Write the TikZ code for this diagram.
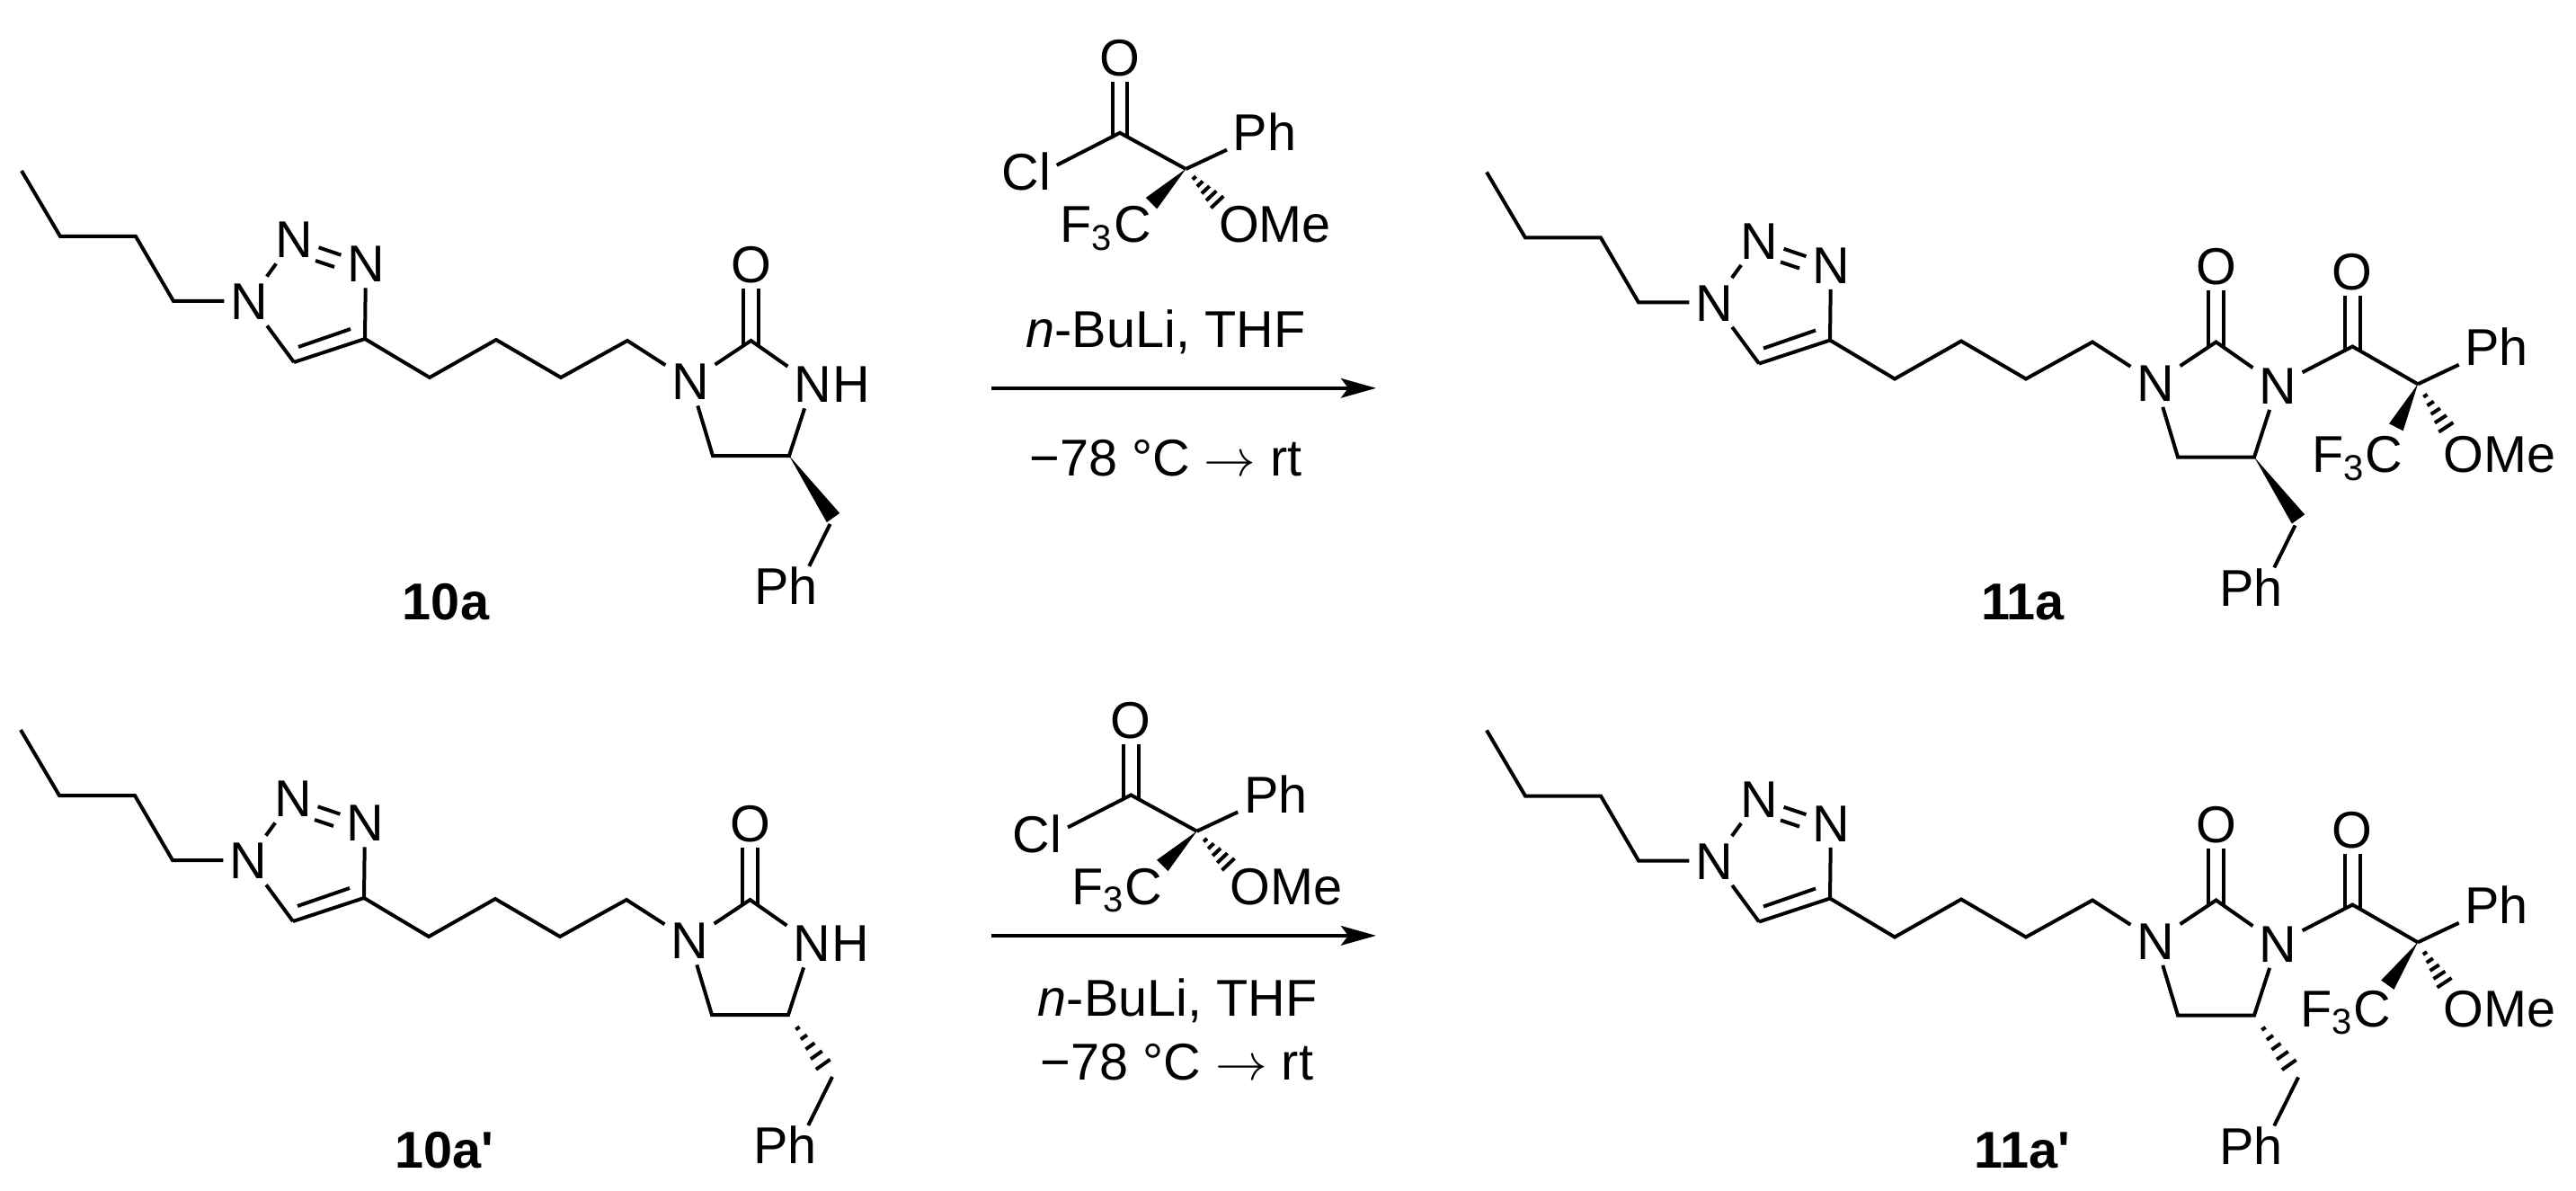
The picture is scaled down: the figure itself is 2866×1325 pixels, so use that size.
\documentclass[tikz,border=0pt]{standalone}
\usepackage{fontspec}
\newfontfamily\chemfont{Liberation Sans}
\usetikzlibrary{
    arrows.meta,
    positioning,
    calc
}
\tikzset{
    % Atom label on a bond
    atomnode/.style={
        font=\fontsize{14.4}{17}\selectfont\chemfont,
        inner sep=1.5pt,
        text height=10.3pt,
        text depth=0pt
    },
    % Compound number
    labelnode/.style={
        font=\fontsize{14.4}{17}\selectfont\chemfont\bfseries,
        anchor=base,
        inner sep=0pt
    },
    % Reaction conditions
    condnode/.style={
        font=\fontsize{14.4}{17}\selectfont\chemfont,
        anchor=base,
        inner sep=0pt
    },
    % Single bond
    bondline/.style={
        line width=1pt
    },
    % C=O bond
    doublebond/.style={
        line width=1pt,
        double=white,
        double distance=3.2pt,
        shorten <=-1.4pt
    },
    % Reaction arrow
    rxnarrow/.style={
        -{Stealth[length=9.75pt,width=5.4pt,inset=2pt]},
        line width=1pt
    }
}
% Stereo bonds
\newcommand{\wedgebond}[2]{
    \fill (#1) -- ($(#2)!2.2pt!90:(#1)$) -- ($(#2)!2.2pt!-90:(#1)$) -- cycle;
}
\newcommand{\hashbond}[2]{
    \foreach \tk in {0.27,0.45,0.63,0.81,1}{
        \pgfmathsetmacro{\hw}{2.4*\tk}
        \coordinate (hp) at ($(#1)!\tk!(#2)$);
        \draw[bondline] ($(hp)!\hw pt!90:(#1)$) -- ($(hp)!\hw pt!-90:(#1)$);
    }
}
% Butyl triazole, linker and ring
\newcommand{\triazolering}{
    \coordinate (bu1) at (24,190);
    \coordinate (bu2) at (67,263);
    \coordinate (bu3) at (151,263);
    \coordinate (bu4) at (193,335);
    \node[atomnode] (Nt1) at (277,335) {N};
    \node[atomnode] (Nt2) at (327,266) {N};
    \node[atomnode] (Nt3) at (407,293) {N};
    \coordinate (Ct4) at (406,377);
    \coordinate (Ct5) at (327,403);
    \coordinate (in1) at (351,290);
    \coordinate (in2) at (372,297);
    \coordinate (in3) at (390,366);
    \coordinate (in4) at (332,386);
    \coordinate (li1) at (478,420);
    \coordinate (li2) at (552,378);
    \coordinate (li3) at (624,420);
    \coordinate (li4) at (698,379);
    \node[atomnode] (Na) at (768,424) {N};
    \coordinate (Cu) at (835.5,379);
    \node[atomnode] (Ou) at (835.5,294) {O};
    \node[atomnode] (Nb) at (904,427) {N};
    \coordinate (Cs) at (878,507);
    \coordinate (Cm) at (793,507);
    \coordinate (Cb) at (927,576);
    \node[atomnode] (Phb) at (874.5,652) {Ph};
    \draw[doublebond] (Cu) -- (Ou);
    \draw[bondline] (bu1) -- (bu2) -- (bu3) -- (bu4) -- (Nt1);
    \draw[bondline] (Nt1) -- (Nt2);
    \draw[bondline] (Nt2) -- (Nt3);
    \draw[bondline] (in1) -- (in2);
    \draw[bondline] (Nt3) -- (Ct4);
    \draw[bondline] (Nt1) -- (Ct5);
    \draw[bondline] (Ct5) -- (Ct4) -- (li1) -- (li2) -- (li3) -- (li4) -- (Na);
    \draw[bondline] (in3) -- (in4);
    \draw[bondline] (Na) -- (Cu) -- (Nb);
    \draw[bondline] (Nb) -- (Cs) -- (Cm) -- (Na);
}
% Quaternary centre of the acid chloride
\newcommand{\mtpachloride}{
    \node[atomnode] (Oc) at (1246,64) {O};
    \coordinate (Cc) at (1246,147.8);
    \node[atomnode] (Cl) at (1141.7,191) {Cl};
    \coordinate (Cq) at (1319.3,188);
    \node[atomnode] (Ph) at (1407,147) {Ph};
    \node[atomnode, anchor=base] (Cf) at (1230.3,269.5) {F\textsubscript{3}C};
    \node[atomnode, anchor=base] (Ome) at (1418.5,269.5) {OMe};
    \coordinate (we) at (1281,226.2);
    \coordinate (ha) at (1354.2,224.8);
    \draw[doublebond] (Cc) -- (Oc);
    \draw[bondline] (Cl.12) -- (Cc) -- (Cq);
    \draw[bondline] (Cq) -- (Ph);
    \wedgebond{Cq}{we}
    \hashbond{Cq}{ha}
}
% Acyl arm of the products
\newcommand{\acylarm}[4]{
    \coordinate (Cc) at (987.3,384);
    \node[atomnode] (Oc) at (987.3,300.5) {O};
    \coordinate (Cq) at (1060,425.8);
    \node[atomnode] (Ph) at (1147.7,384.4) {Ph};
    \node[atomnode, anchor=base] (Cf) at #2 {F\textsubscript{3}C};
    \node[atomnode, anchor=base] (Ome) at #4 {OMe};
    \coordinate (we) at #1;
    \coordinate (ha) at #3;
    \draw[doublebond] (Cc) -- (Oc);
    \draw[bondline] (Nb) -- (Cc) -- (Cq);
    \draw[bondline] (Cq) -- (Ph);
    \wedgebond{Cq}{we}
    \hashbond{Cq}{ha}
}

\begin{document}
\begin{tikzpicture}[x=0.25pt, y=-0.25pt]
    \useasboundingbox (0,0) rectangle (2866,1325);

    % Starting materials
    \begin{scope}[name prefix=sa-]
        \triazolering
        \node[atomnode, inner sep=0pt, right=-1.5pt of Nb] (Hb) {H};
        \wedgebond{Cs}{Cb}
        \coordinate (Cp) at (923.5,583);
        \draw[bondline, shorten >=-1.5pt] (Cp) -- (Phb.44);
    \end{scope}
    \begin{scope}[name prefix=sb-, shift={(-1,622)}]
        \triazolering
        \node[atomnode, inner sep=0pt, right=-1.5pt of Nb] (Hb) {H};
        \coordinate (hb) at (916.7,562.2);
        \hashbond{Cs}{hb}
        \draw[bondline, shorten >=-1.5pt] (Cb) -- (Phb.44);
    \end{scope}

    % Products
    \begin{scope}[name prefix=pa-, shift={(1630,1.5)}]
        \triazolering
        \wedgebond{Cs}{Cb}
        \coordinate (Cp) at (923.5,583);
        \draw[bondline, shorten >=-1.5pt] (Cp) -- (Phb.44);
        \acylarm{(1035.8,473.8)}{(992.5,524.2)}{(1091.3,473.8)}{(1150.7,524.2)}
    \end{scope}
    \begin{scope}[name prefix=pb-, shift={(1630,622.5)}]
        \triazolering
        \coordinate (hb) at (916.7,562.2);
        \hashbond{Cs}{hb}
        \draw[bondline, shorten >=-1.5pt] (Cb) -- (Phb.44);
        \acylarm{(1026.3,473.2)}{(979.7,519.8)}{(1089.5,470.8)}{(1150.7,519.8)}
    \end{scope}

    % Reagents
    \begin{scope}[name prefix=ra-]
        \mtpachloride
    \end{scope}
    \begin{scope}[name prefix=rb-, shift={(12.3,736.7)}]
        \mtpachloride
    \end{scope}

    % Arrows and conditions
    \coordinate (ar1) at (1103.3,431.8);
    \coordinate (ar2) at (1531,431.8);
    \coordinate (ar3) at (1103.3,1040.9);
    \coordinate (ar4) at (1531,1040.9);
    \draw[rxnarrow] (ar1) -- (ar2);
    \draw[rxnarrow] (ar3) -- (ar4);
    \node[condnode] (cond1) at (1297,386.8) {\textit{n}-BuLi, THF};
    \node[condnode] (temp1) at (1297,529.5) {−78 °C $\rightarrow$ rt};
    \node[condnode] (cond2) at (1310,1130.5) {\textit{n}-BuLi, THF};
    \node[condnode] (temp2) at (1309.5,1201.5) {−78 °C $\rightarrow$ rt};

    % Compound numbers
    \node[labelnode] (num10a) at (496,689) {10a};
    \node[labelnode] (num10b) at (494,1299) {10a'};
    \node[labelnode] (num11a) at (2250.5,689) {11a};
    \node[labelnode] (num11b) at (2249.5,1299) {11a'};

\end{tikzpicture}
\end{document}
